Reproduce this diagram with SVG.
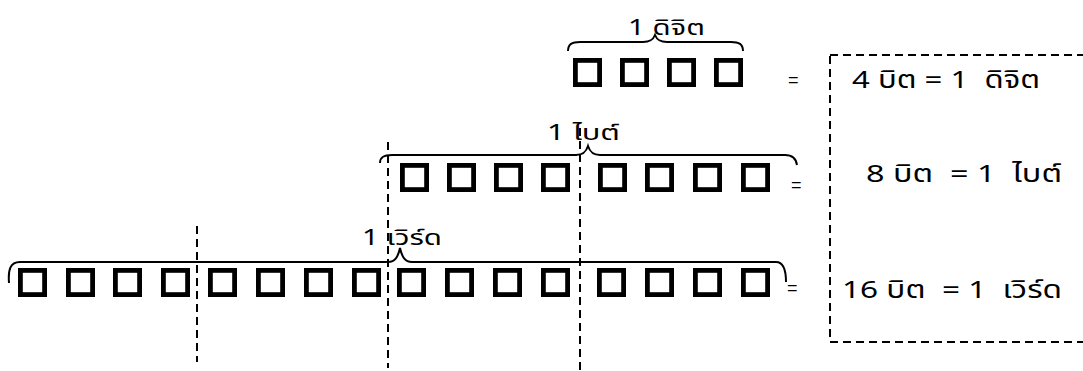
<svg xmlns="http://www.w3.org/2000/svg" width="1083" height="371" viewBox="0 0 1083 371">
<style>
.sq{fill:none;stroke:#000;stroke-width:4.8}
.br{fill:none;stroke:#000;stroke-width:2}
.dl{fill:none;stroke:#000;stroke-width:2;stroke-dasharray:8 5}
.t{font-family:"Noto Sans Thai","Noto Sans","DejaVu Sans",sans-serif;font-size:22px;fill:#000;white-space:pre}
.lg{font-family:"Noto Sans Thai","Noto Sans","DejaVu Sans",sans-serif;font-size:24px;fill:#000;white-space:pre}
.eq{font-family:"Liberation Sans",sans-serif;font-size:18px;fill:#000}
</style>
<rect width="1083" height="371" fill="#fff"/>
<g id="connectors">
<line class="dl" x1="197" y1="226" x2="197" y2="362"/>
<line class="dl" x1="388" y1="142" x2="388" y2="368"/>
<line class="dl" x1="580" y1="128" x2="580" y2="371"/>
<rect class="dl" x="830" y="55" width="270" height="287"/>
</g>
<g id="digit">
<path class="br" d="M568,51 C568,44 572,42 580,42 L643,42 C650,42 653,40 655,35 C657,40 660,42 667,42 L731,42 C739,42 743,44 743,51"/>
<text class="t" x="628" y="35" textLength="77" lengthAdjust="spacingAndGlyphs">1 ดิจิต</text>
<rect class="sq" x="575.4" y="60.4" width="24.2" height="24.2"/>
<rect class="sq" x="622.4" y="60.4" width="24.2" height="24.2"/>
<rect class="sq" x="669.4" y="60.4" width="24.2" height="24.2"/>
<rect class="sq" x="716.4" y="60.4" width="24.2" height="24.2"/>
<text class="eq" x="788" y="86">=</text>
</g>
<g id="byte">
<path class="br" d="M380,163 C380,157 384,155 392,155 L576,155 C583,155 586,152 588,146 C590,152 593,155 600,155 L785,155 C792,155 796,158 797,165"/>
<text class="t" x="547" y="140" textLength="73" lengthAdjust="spacingAndGlyphs">1 ไบต์</text>
<rect class="sq" x="402.4" y="165.4" width="24.2" height="24.2"/>
<rect class="sq" x="449.4" y="165.4" width="24.2" height="24.2"/>
<rect class="sq" x="496.4" y="165.4" width="24.2" height="24.2"/>
<rect class="sq" x="543.4" y="165.4" width="24.2" height="24.2"/>
<rect class="sq" x="600.4" y="165.4" width="24.2" height="24.2"/>
<rect class="sq" x="647.4" y="165.4" width="24.2" height="24.2"/>
<rect class="sq" x="695.4" y="165.4" width="24.2" height="24.2"/>
<rect class="sq" x="743.4" y="165.4" width="24.2" height="24.2"/>
<text class="eq" x="791" y="191">=</text>
</g>
<g id="word">
<path class="br" d="M9,283 C8,270 10,262 20,262 L388,262 C395,262 398,257 400,248 C402,257 405,262 412,262 L776,262 C783,262 786,268 786,282"/>
<text class="t" x="362" y="245" textLength="80" lengthAdjust="spacingAndGlyphs">1 เวิร์ด</text>
<rect class="sq" x="20.4" y="270.4" width="24.2" height="24.2"/>
<rect class="sq" x="68.4" y="270.4" width="24.2" height="24.2"/>
<rect class="sq" x="115.4" y="270.4" width="24.2" height="24.2"/>
<rect class="sq" x="163.4" y="270.4" width="24.2" height="24.2"/>
<rect class="sq" x="210.4" y="270.4" width="24.2" height="24.2"/>
<rect class="sq" x="258.4" y="270.4" width="24.2" height="24.2"/>
<rect class="sq" x="306.4" y="270.4" width="24.2" height="24.2"/>
<rect class="sq" x="354.4" y="270.4" width="24.2" height="24.2"/>
<rect class="sq" x="399.4" y="270.4" width="24.2" height="24.2"/>
<rect class="sq" x="447.4" y="270.4" width="24.2" height="24.2"/>
<rect class="sq" x="495.4" y="270.4" width="24.2" height="24.2"/>
<rect class="sq" x="543.4" y="270.4" width="24.2" height="24.2"/>
<rect class="sq" x="599.4" y="270.4" width="24.2" height="24.2"/>
<rect class="sq" x="647.4" y="270.4" width="24.2" height="24.2"/>
<rect class="sq" x="695.4" y="270.4" width="24.2" height="24.2"/>
<rect class="sq" x="743.4" y="270.4" width="24.2" height="24.2"/>
<text class="eq" x="787" y="294">=</text>
</g>
<g id="legend">
<text class="lg" x="852" y="88" textLength="188" lengthAdjust="spacingAndGlyphs">4 บิต = 1  ดิจิต</text>
<text class="lg" x="866" y="182" textLength="196" lengthAdjust="spacingAndGlyphs">8 บิต  = 1  ไบต์</text>
<text class="lg" x="842" y="298" textLength="220" lengthAdjust="spacingAndGlyphs">16 บิต  = 1  เวิร์ด</text>
</g>
</svg>
